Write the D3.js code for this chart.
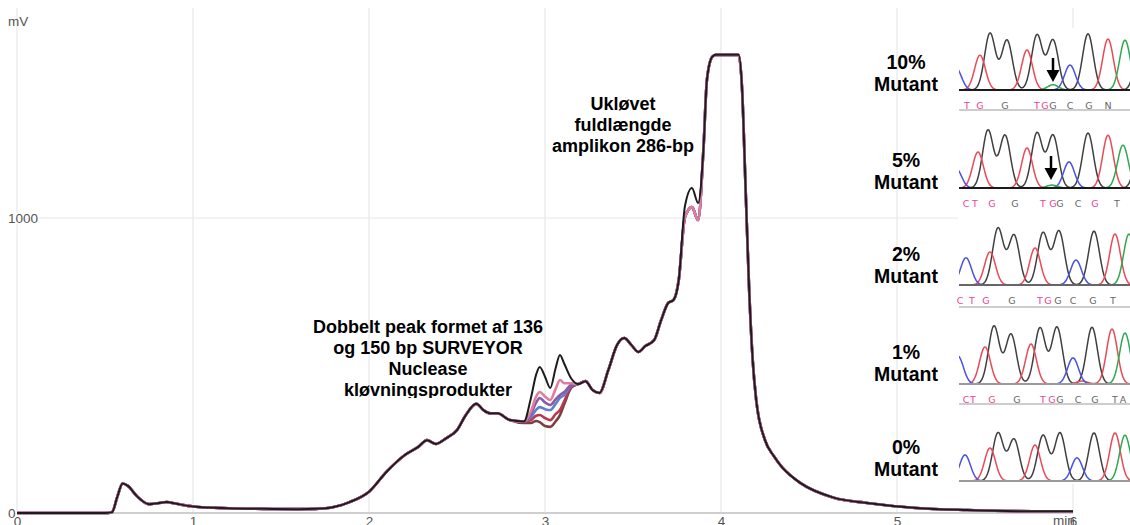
<!DOCTYPE html>
<html><head><meta charset="utf-8">
<script src="https://cdn.jsdelivr.net/npm/d3@7"></script>
<style>
html,body{margin:0;padding:0;background:#fff;}
svg{display:block;font-family:"Liberation Sans",Arial,sans-serif;}
</style></head><body>
<svg id="chart" width="1130" height="525"></svg>
<script>
// ---- Capillary electrophoresis trace: retention time (min) vs signal (mV) ----
const times = [0,0.50,0.54,0.57,0.60,0.63,0.68,0.75,0.80,0.85,0.90,1.00,1.20,1.40,1.60,1.70,1.80,1.89,2.00,2.10,2.20,2.28,2.33,2.38,2.44,2.50,2.55,2.61,2.65,2.69,2.73,2.80,2.88,
  3.19,3.23,3.27,3.31,3.36,3.41,3.45,3.49,3.53,3.57,3.62,3.66,3.70,3.73,3.76,3.795,3.835,3.87,3.90,3.92,3.95,3.97,4.10,4.12,4.14,4.16,4.18,4.20,4.25,4.30,4.35,4.40,4.45,4.64,4.83,5.11,5.40,5.77,6.00];
const signal = [0,0,3,55,100,92,58,30,33,37,32,22,16,14,13,14,20,37,72,140,195,224,247,234,254,281,332,370,349,338,338,315,310,
  437,447,417,407,485,570,593,570,546,566,586,654,712,722,790,1003,1037,993,1230,1468,1546,1553,1553,1434,1095,756,519,383,247,193,153,125,102,52,34,17,10,6,6];

// Cleavage products window (double peak), one row per sample
const cleavageTimes = [2.88,2.92,2.95,2.97,3.00,3.03,3.06,3.085,3.11,3.15];
const cleavage10 = [310,390,470,495,462,424,490,536,505,455];
const cleavage5  = [310,345,395,410,395,383,420,451,440,440];
const cleavage2  = [310,335,375,390,375,366,385,400,410,435];
const cleavage1  = [310,325,350,359,352,349,370,390,400,432];
const cleavage0  = [310,315,330,332,322,315,335,349,380,428];
const cleavageCtrl = [305,305,312,308,295,292,310,332,370,425];

// Shoulder ahead of the full-length amplicon peak (10% run only)
const shoulderTimes = [3.795,3.835,3.87];
const shoulder10 = [1040,1102,1051];

const xTicks = [0,1,2,3,4,5,6];
const yTicks = [0,1000];

const samples = ["ctrl","0%","1%","2%","5%","10%"];
const sampleColor = {"ctrl":"#7b4040","0%":"#b8374f","1%":"#5f7fcf","2%":"#8a5aa8","5%":"#e07d9c","10%":"#1c1c1c"};
const cleavageBy = {"ctrl":cleavageCtrl,"0%":cleavage0,"1%":cleavage1,"2%":cleavage2,"5%":cleavage5,"10%":cleavage10};
const shoulderBy = {"10%":shoulder10};

// ---- Sanger chromatograms: peaks per channel [scan, height], base calls [base, scan, lowQuality] ----
const mutantLabels = ["10%","5%","2%","1%","0%"];
const peaks10 = {G:[[31,98],[48,86],[78,95],[94,86],[129,97],[182,95]], T:[[21,60],[68,69],[149,88]], C:[[-3,38],[111,43]], A:[[94,9],[166,86]]};
const peaks5  = {G:[[29,100],[46,91],[78,95],[94,91],[129,95],[182,95]], T:[[19,62],[68,69],[149,91]], C:[[-3,34],[110,45]], A:[[93,5],[164,74]]};
const peaks2  = {G:[[39,98],[55,86],[84,90],[100,93],[135,93]], T:[[31,57],[76,64],[156,88]], C:[[7,47],[117,43]], A:[[170,88]]};
const peaks1  = {G:[[35,100],[52,86],[81,97],[98,98],[133,98]], T:[[26,64],[72,69],[123,5],[153,95]], C:[[-1,48],[114,45]], A:[[166,88]]};
const peaks0  = {G:[[39,83],[55,72],[84,79],[101,83],[135,83]], T:[[31,57],[76,62],[156,83]], C:[[6,45],[118,40]], A:[[166,79]]};
const calls10 = [["T",8,1],["G",21,1],["G",46,0],["T",78,1],["G",86,1],["G",94,0],["C",111,0],["G",130,0],["N",149,0]];
const calls5  = [["C",7,1],["T",16,1],["G",33,1],["G",56,0],["T",84,1],["G",94,1],["G",101,0],["C",119,0],["G",136,1],["T",158,0]];
const calls2  = [["C",1,1],["T",13,1],["G",27,1],["G",53,0],["T",81,1],["G",89,1],["G",99,0],["C",114,0],["G",134,0],["T",154,0]];
const calls1  = [["C",7,1],["T",14,1],["G",33,1],["G",58,0],["T",84,1],["G",93,1],["G",101,0],["C",119,0],["G",136,0],["T",156,0],["A",164,0]];
const calls0  = [];
const mutationScan = {"10%":94,"5%":92};

// ---------------------------------------------------------------------------
const svg = d3.select("#chart");
const x = d3.scaleLinear().domain([0,6]).range([17,1073]);
const y = d3.scaleLinear().domain([0,1000]).range([513,218]);

// grid
const grid = svg.append("g");
grid.selectAll("line.v").data(xTicks).join("line")
  .attr("x1",d=>x(d)).attr("x2",d=>x(d)).attr("y1",8).attr("y2",y(0))
  .attr("stroke","#e8e8e8").attr("stroke-width",1.2);
grid.selectAll("line.h").data(yTicks.filter(d=>d>0)).join("line")
  .attr("x1",x(0)).attr("x2",x(6)).attr("y1",d=>y(d)).attr("y2",d=>y(d))
  .attr("stroke","#e8e8e8").attr("stroke-width",1.2);
svg.append("line").attr("x1",x(0)).attr("x2",x(6)).attr("y1",y(0)).attr("y2",y(0))
  .attr("stroke","#cfcfcf").attr("stroke-width",2);

// traces
function tracePoints(name){
  let pts = times.map((t,i)=>[t,signal[i]]);
  const windows = [[cleavageTimes, cleavageBy[name]]];
  if (shoulderBy[name]) windows.push([shoulderTimes, shoulderBy[name]]);
  windows.forEach(([ts,vs])=>{
    const lo = d3.min(ts), hi = d3.max(ts);
    pts = pts.filter(p=>p[0]<lo||p[0]>hi).concat(ts.map((t,i)=>[t,vs[i]]));
  });
  return pts.sort((a,b)=>a[0]-b[0]);
}
const line = d3.line().x(d=>x(d[0])).y(d=>y(d[1])).curve(d3.curveMonotoneX);
svg.append("g").selectAll("path").data(samples).join("path")
  .attr("d",d=>line(tracePoints(d)))
  .attr("fill","none")
  .attr("stroke",d=>sampleColor[d])
  .attr("stroke-width",d=>d==="10%"?2:2.6)
  .attr("stroke-linejoin","round");

// axes
const xAxis = svg.append("g").attr("transform",`translate(0,${y(0)})`)
  .call(d3.axisBottom(x).tickValues(xTicks).tickSize(0).tickPadding(3).tickFormat(d3.format("d")));
xAxis.select(".domain").remove();
svg.append("text").attr("x",1053).attr("y",525).attr("font-size",13.5).attr("fill","#555").text("min");
xAxis.selectAll("text").attr("font-size",13.5).attr("fill","#555")
  .attr("font-family","Liberation Sans, Arial, sans-serif")
  .attr("stroke","#fff").attr("stroke-width",3).attr("paint-order","stroke");

const yAxis = svg.append("g").attr("transform","translate(5,0)")
  .call(d3.axisRight(y).tickValues(yTicks).tickSize(0).tickPadding(3).tickFormat(d3.format("d")));
yAxis.select(".domain").remove();
yAxis.selectAll("text").attr("font-size",13.5).attr("fill","#555")
  .attr("font-family","Liberation Sans, Arial, sans-serif")
  .attr("stroke","#fff").attr("stroke-width",3).attr("paint-order","stroke");
svg.append("text").attr("x",8).attr("y",26).attr("font-size",13.5).attr("fill","#555").text("mV");

// annotations
function block(lines, cx, y0, clipBottom){
  const g = svg.append("g");
  if (clipBottom){
    svg.append("clipPath").attr("id","annClip").append("rect")
      .attr("x",0).attr("y",0).attr("width",1130).attr("height",clipBottom);
    g.attr("clip-path","url(#annClip)");
  }
  g.selectAll("text").data(lines).join("text")
    .attr("x",cx).attr("y",(d,i)=>y0+i*21)
    .attr("text-anchor","middle").attr("font-weight","bold").attr("font-size",18).attr("fill","#000")
    .text(d=>d);
}
block(["Ukløvet","fuldlængde","amplikon 286-bp"], 623, 110);
block(["Dobbelt peak formet af 136","og 150 bp SURVEYOR","Nuclease","kløvningsprodukter"], 428, 333, 398);

// chromatogram panels
svg.append("rect").attr("x",958).attr("y",28).attr("width",172).attr("height",456).attr("fill","#fff");
const panels = [
  {label:"10%", peaks:peaks10, calls:calls10, base:90,  labelY:69,  axis:"#1a1a1a", rule:110},
  {label:"5%",  peaks:peaks5,  calls:calls5,  base:188, labelY:167, axis:"#1a1a1a", rule:null},
  {label:"2%",  peaks:peaks2,  calls:calls2,  base:285, labelY:261, axis:"#666",    rule:307},
  {label:"1%",  peaks:peaks1,  calls:calls1,  base:384, labelY:359, axis:"#9a9a9a", rule:404},
  {label:"0%",  peaks:peaks0,  calls:calls0,  base:481, labelY:454, axis:"#9a9a9a", rule:null}
];
const channelColor = {A:"#2fa84f", C:"#4b52e0", G:"#404040", T:"#ea4a55"};
const scans = d3.range(-10,190,0.5);
const sx = d3.scaleLinear().domain([0,171]).range([959,1130]);

panels.forEach((p,k)=>{
  const sy = d3.scaleLinear().domain([0,100]).range([p.base, p.base-58]);
  const g = svg.append("g");
  const cid = "clip"+k;
  svg.append("clipPath").attr("id",cid).append("rect")
    .attr("x",959).attr("y",p.base-60).attr("width",171).attr("height",62);
  const traces = g.append("g").attr("clip-path",`url(#${cid})`);
  Object.keys(p.peaks).forEach(ch=>{
    const pk = p.peaks[ch];
    const pts = scans.map(s=>[s, d3.sum(pk, q=>q[1]*Math.exp(-((s-q[0])**2)/(2*5.4*5.4)))]);
    traces.append("path")
      .attr("d", d3.line().x(d=>sx(d[0])).y(d=>sy(d[1])).curve(d3.curveBasis)(pts))
      .attr("fill","none").attr("stroke",channelColor[ch]).attr("stroke-width",1.5);
  });
  g.append("line").attr("x1",959).attr("x2",1130).attr("y1",p.base).attr("y2",p.base)
    .attr("stroke",p.axis).attr("stroke-width",2);
  g.selectAll("text.call").data(p.calls).join("text")
    .attr("x",d=>sx(d[1])).attr("y",p.base+19).attr("text-anchor","middle")
    .attr("font-size",9.5).attr("font-family","DejaVu Sans, sans-serif")
    .attr("fill",d=>d[2]?"#ee3f95":"#666").text(d=>d[0]);
  if (p.rule) g.append("line").attr("x1",959).attr("x2",1130).attr("y1",p.rule).attr("y2",p.rule)
    .attr("stroke","#bdbdbd").attr("stroke-width",1.5);
  if (mutationScan[p.label] !== undefined){
    const ax = sx(mutationScan[p.label]);
    const top = p.base-32, tip = p.base-8;
    g.append("line").attr("x1",ax).attr("x2",ax).attr("y1",top).attr("y2",tip-11)
      .attr("stroke","#000").attr("stroke-width",2.5);
    g.append("path").attr("d",`M${ax-6.5},${tip-12}L${ax+6.5},${tip-12}L${ax},${tip}Z`).attr("fill","#000");
  }
  // sample label
  const lab = svg.append("g").attr("font-weight","bold").attr("font-size",19.5).attr("text-anchor","middle");
  lab.append("text").attr("x",906).attr("y",p.labelY).text(p.label);
  lab.append("text").attr("x",906).attr("y",p.labelY+22).text("Mutant");
});
</script>
</body></html>
